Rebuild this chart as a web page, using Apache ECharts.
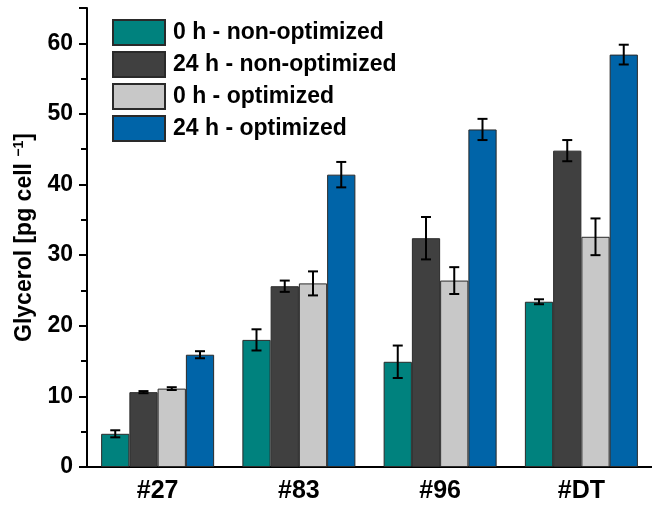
<!DOCTYPE html>
<html>
<head>
<meta charset="utf-8">
<script src="https://cdn.jsdelivr.net/npm/echarts@6/dist/echarts.min.js"></script>
<style>
  html, body { margin: 0; padding: 0; background: #fff; }
  #chart { width: 652px; height: 506px; }
</style>
</head>
<body>
<div id="chart"></div>
<script>
// Glycerol content per cell for each strain, before (0 h) and after (24 h) cultivation
var strains = ['#27', '#83', '#96', '#DT'];
var seriesNames = ['0 h - non-optimized', '24 h - non-optimized', '0 h - optimized', '24 h - optimized'];
var seriesColors = ['#00827e', '#404040', '#c8c8c8', '#0064a8'];

var nonOpt0h  = [4.7, 18.0, 14.9, 23.4];
var nonOpt24h = [10.6, 25.6, 32.4, 44.8];
var opt0h     = [11.1, 26.0, 26.4, 32.6];
var opt24h    = [15.9, 41.4, 47.8, 58.4];

var nonOpt0hErr  = [0.5, 1.5, 2.3, 0.35];
var nonOpt24hErr = [0.15, 0.8, 3.0, 1.5];
var opt0hErr     = [0.2, 1.7, 1.9, 2.6];
var opt24hErr    = [0.5, 1.8, 1.5, 1.4];

var yTicks = [0, 10, 20, 30, 40, 50, 60];

var values = [nonOpt0h, nonOpt24h, opt0h, opt24h];
var errors = [nonOpt0hErr, nonOpt24hErr, opt0hErr, opt24hErr];

var FONT = '"Liberation Sans", Arial, sans-serif';
var BAR_FRACTION = 0.2;

var series = [];
values.forEach(function (vals, k) {
  series.push({
    name: seriesNames[k],
    type: 'bar',
    data: vals,
    barWidth: (BAR_FRACTION * 100) + '%',
    barGap: '0%',
    itemStyle: { color: seriesColors[k], borderColor: '#2a2a2a', borderWidth: 1 },
    emphasis: { disabled: true }
  });
});

// error bars drawn on top of each bar group
values.forEach(function (vals, k) {
  series.push({
    name: 'err-' + k,
    type: 'custom',
    z: 10,
    encode: { x: 0, y: 1 },
    data: vals.map(function (v, i) { return [i, v, errors[k][i]]; }),
    renderItem: function (params, api) {
      var idx = api.value(0), v = api.value(1), e = api.value(2);
      var band = api.size([1, 0])[0];
      var w = band * BAR_FRACTION;
      var x = api.coord([idx, v])[0] + (k - 1.5) * w;
      var yTop = api.coord([idx, v + e])[1];
      var yBot = api.coord([idx, v - e])[1];
      var cap = 5;
      var st = { stroke: '#000', lineWidth: 2 };
      return {
        type: 'group',
        children: [
          { type: 'line', shape: { x1: x, y1: yTop, x2: x, y2: yBot }, style: st },
          { type: 'line', shape: { x1: x - cap, y1: yTop, x2: x + cap, y2: yTop }, style: st },
          { type: 'line', shape: { x1: x - cap, y1: yBot, x2: x + cap, y2: yBot }, style: st }
        ]
      };
    }
  });
});

var chart = echarts.init(document.getElementById('chart'), null, { renderer: 'canvas' });
chart.setOption({
  animation: false,
  backgroundColor: '#ffffff',
  grid: { left: 87, right: -7, top: 8, bottom: 39, containLabel: false },
  legend: {
    orient: 'vertical',
    left: 112,
    top: 19,
    padding: 0,
    icon: 'rect',
    itemWidth: 52,
    itemHeight: 25,
    itemGap: 5,
    data: seriesNames,
    textStyle: { fontFamily: FONT, fontWeight: 'bold', fontSize: 23, color: '#000', padding: [0, 0, 0, 3] }
  },
  xAxis: [{
    type: 'category',
    data: strains,
    axisLine: { lineStyle: { color: '#000', width: 2 } },
    axisTick: { alignWithLabel: true, length: 8, lineStyle: { color: '#000', width: 2 } },
    axisLabel: { fontFamily: FONT, fontWeight: 'bold', fontSize: 25, color: '#000', margin: 12 }
  }, {
    type: 'category',
    data: strains,
    position: 'bottom',
    axisLine: { show: false },
    axisTick: { length: 4, lineStyle: { color: '#000', width: 2 } },
    axisLabel: { show: false }
  }],
  yAxis: {
    type: 'value',
    min: 0,
    max: 65,
    interval: 10,
    name: '{a|Glycerol [pg cell }{s|\u22121}{a|]}',
    nameLocation: 'middle',
    nameGap: 50,
    nameRotate: 90,
    nameTextStyle: {
      rich: {
        a: { fontFamily: FONT, fontWeight: 'bold', fontSize: 23, color: '#000' },
        s: { fontFamily: FONT, fontWeight: 'bold', fontSize: 14, color: '#000', verticalAlign: 'top', padding: [0, 0, 11, 0] }
      }
    },
    splitLine: { show: false },
    axisLine: { show: true, lineStyle: { color: '#000', width: 2 } },
    axisTick: { show: true, length: 8, lineStyle: { color: '#000', width: 2 } },
    minorTick: { show: true, splitNumber: 2, length: 6, lineStyle: { color: '#000', width: 2 } },
    axisLabel: {
      fontFamily: FONT, fontWeight: 'bold', fontSize: 23, color: '#000', margin: 14,
      formatter: function (v) { return yTicks.indexOf(v) >= 0 ? String(v) : ''; }
    }
  },
  series: series
});
</script>
</body>
</html>
